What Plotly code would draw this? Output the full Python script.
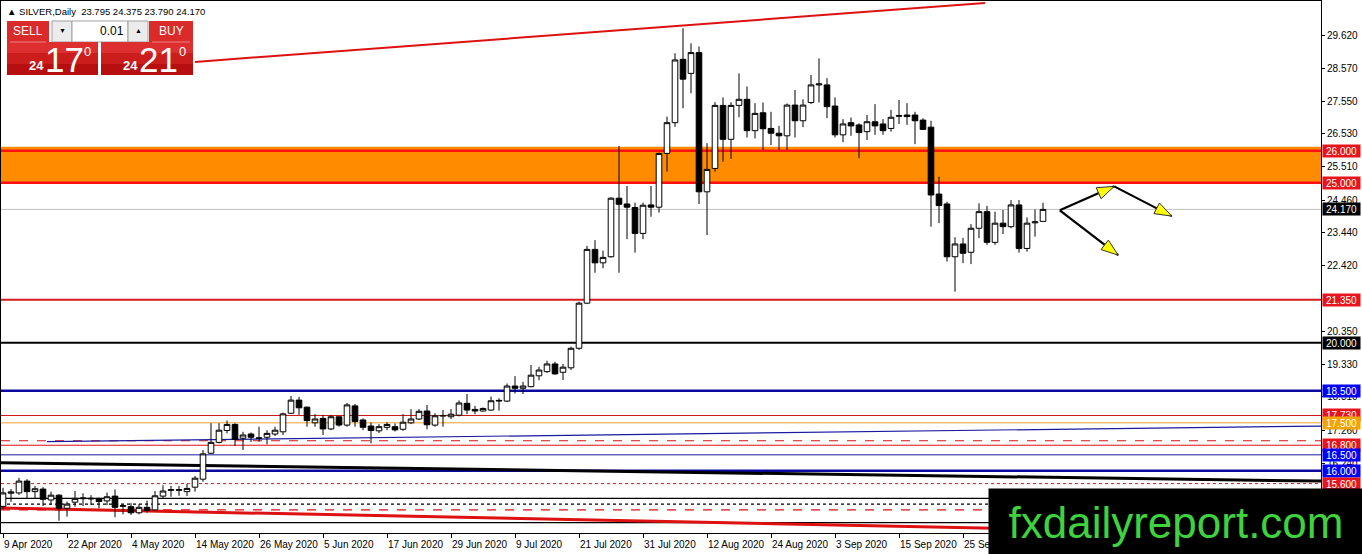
import plotly.graph_objects as go
import math

# ---------------- data ----------------
opens = [14.89,15.30,15.31,15.68,15.35,15.43,15.09,15.24,14.83,15.02,15.13,15.12,15.14,15.06,15.21,14.89,14.88,14.69,14.86,14.78,
         15.21,15.39,15.39,15.35,15.49,15.74,16.55,16.89,17.26,17.45,17.02,17.15,17.01,17.05,17.15,17.22,17.80,18.21,17.99,17.50,
         17.64,17.31,17.69,17.43,18.03,17.59,17.40,17.25,17.36,17.38,17.30,17.50,17.62,17.87,17.43,17.71,17.69,17.74,18.11,17.92,
         17.87,17.90,18.18,18.18,18.65,18.58,18.63,18.97,19.10,19.34,19.08,19.22,19.83,21.24,22.92,22.50,22.69,24.52,24.34,24.23,
         23.42,24.31,24.24,25.92,26.88,28.86,28.42,29.07,24.72,25.45,27.42,26.36,27.42,27.61,26.63,27.19,26.70,26.55,26.47,27.43,
         26.94,27.51,28.06,28.06,27.40,26.50,26.88,26.81,26.60,26.91,26.84,26.70,27.08,27.12,27.12,26.96,26.74,24.65,24.34,22.69,
         23.09,22.83,23.58,24.10,23.14,23.74,23.63,24.31,22.95,23.75,23.795]
highs = [15.47,15.43,15.78,15.74,15.53,15.49,15.35,15.27,15.04,15.37,15.30,15.24,15.16,15.32,15.42,14.96,14.99,14.96,15.07,15.37,
         15.55,15.53,15.53,15.59,15.84,16.65,17.49,17.49,17.57,17.49,17.22,17.20,17.38,17.27,17.38,17.82,18.34,18.31,18.01,17.77,
         17.74,17.74,17.69,18.12,18.09,17.64,17.51,17.46,17.52,17.48,17.77,17.93,17.93,18.06,17.80,17.90,17.93,18.20,18.40,18.03,
         17.98,18.32,18.27,18.73,18.96,18.78,19.31,19.25,19.44,19.41,19.34,19.88,21.29,23.03,23.21,22.88,24.55,26.15,24.90,24.38,
         24.38,24.90,25.94,27.07,29.05,29.83,29.36,29.26,26.24,27.52,27.67,27.52,28.42,28.01,27.49,27.51,27.22,26.78,27.48,27.90,
         27.61,28.37,28.89,28.27,27.67,26.99,27.04,26.86,27.12,27.46,26.99,27.28,27.59,27.49,27.22,27.02,26.94,25.19,24.41,23.30,
         23.28,23.71,24.36,24.28,24.10,24.15,24.46,24.46,23.92,24.17,24.375]
lows = [14.81,15.03,15.25,15.15,15.15,14.90,14.93,14.44,14.57,14.88,14.90,14.93,14.83,14.93,14.55,14.64,14.62,14.64,14.69,14.76,
        15.14,15.19,15.22,15.21,15.35,15.66,16.53,16.86,17.17,16.78,16.65,16.90,16.91,16.83,17.09,17.12,17.78,17.75,17.38,17.38,
        17.12,17.27,17.38,17.38,17.38,17.27,16.86,17.18,17.27,17.23,17.25,17.46,17.59,17.30,17.38,17.38,17.62,17.70,17.77,17.77,
        17.85,17.88,17.88,18.15,18.42,18.40,18.61,18.83,19.06,19.00,18.84,19.15,19.78,21.21,22.19,22.33,22.66,22.19,23.24,22.82,
        23.24,23.94,24.07,25.35,26.75,27.33,27.80,24.34,23.37,25.35,25.66,25.75,27.05,26.42,26.39,26.03,26.18,26.03,26.03,26.42,
        26.74,27.46,27.51,27.02,26.42,26.27,26.47,25.77,26.34,26.50,26.50,26.60,26.84,26.81,26.21,26.65,23.63,23.74,22.54,21.60,
        22.49,22.46,23.27,23.06,23.06,23.40,23.58,22.82,22.85,23.32,23.790]
closes = [15.31,15.34,15.68,15.35,15.44,15.11,15.24,14.83,14.96,15.14,15.15,15.14,15.04,15.19,14.86,14.91,14.69,14.86,14.76,15.22,
          15.37,15.41,15.41,15.45,15.77,16.53,16.89,17.27,17.45,16.98,17.12,17.05,17.03,17.17,17.27,17.78,18.21,17.97,17.57,17.62,
          17.31,17.69,17.43,18.06,17.54,17.36,17.26,17.38,17.45,17.28,17.52,17.62,17.86,17.44,17.72,17.73,17.77,18.12,17.90,17.87,
          17.95,18.19,18.20,18.65,18.58,18.65,18.99,19.15,19.34,19.03,19.24,19.83,21.24,22.92,22.50,22.67,24.52,24.33,24.24,23.42,
          24.30,24.24,25.92,26.88,28.84,28.24,29.07,24.72,25.42,27.42,26.36,27.42,27.61,26.63,27.17,26.69,26.55,26.47,27.43,26.94,
          27.43,28.06,28.09,27.38,26.50,26.84,26.78,26.57,26.91,26.78,26.63,27.05,27.10,27.07,26.94,26.67,24.62,24.29,22.69,23.09,
          22.80,23.58,24.10,23.14,23.74,23.63,24.31,22.95,23.74,23.78,24.170]
bar_index = list(range(len(closes)))

date_labels = ["9 Apr 2020", "22 Apr 2020", "4 May 2020", "14 May 2020", "26 May 2020", "5 Jun 2020",
               "17 Jun 2020", "29 Jun 2020", "9 Jul 2020", "21 Jul 2020", "31 Jul 2020", "12 Aug 2020",
               "24 Aug 2020", "3 Sep 2020", "15 Sep 2020", "25 Sep 2020"]
date_label_index = [0, 8, 16, 24, 32, 40, 48, 56, 64, 72, 80, 88, 96, 104, 112, 120]

price_ticks = [29.62, 28.57, 27.55, 26.53, 25.51, 24.46, 23.44, 22.42, 20.35, 19.33, 18.31, 17.26, 16.24]

# labelled horizontal levels
level_prices = [26.0, 25.0, 24.17, 21.35, 20.0, 18.5, 17.73, 17.5, 16.8, 16.5, 16.0, 15.6]
level_colors = ['#ff1010', '#ff1010', '#c0c0c0', '#d41c1c', '#000000', '#0a0aa0', '#cc1414', '#f0a030', '#dd1111', '#1a1aa0', '#0a0aa0', '#dd1111']
level_widths = [2.5, 2.5, 1, 2, 2, 2.5, 1, 1, 1, 1, 2.5, 1]
level_dash = ['solid', 'solid', 'solid', 'solid', 'solid', 'solid', 'solid', 'solid', 'solid', 'solid', 'solid', 'dot']
label_bg = ['#e8141c', '#e8141c', '#000000', '#e8141c', '#000000', '#0000ff', '#e8141c', '#f5a300', '#e8141c', '#0000ff', '#0000ff', '#e8141c']

# unlabelled levels
extra_prices = [16.94, 15.14, 14.96, 14.78, 14.38]
extra_colors = ['#dd1111', '#000000', '#000000', '#dd1111', '#000000']
extra_dash = ['dash', 'solid', 'dot', 'dash', 'solid']

zone_low, zone_high = 24.99, 26.13

# trend lines: (bar start, price start, bar end, price end, colour, width)
trend_lines = [
    (24.0, 28.78, 122.75, 30.62, '#dd1111', 2),
    (-0.25, 16.25, 164.75, 15.68, '#000000', 3),
    (-0.25, 14.84, 164.75, 14.00, '#dd1111', 3),
    (5.5, 16.91, 164.75, 17.40, '#1a1aa0', 1.2),
]

# arrows (bar, price) start -> end
arrows = [((132.1, 24.14), (138.9, 24.89)),
          ((138.9, 24.89), (146.1, 23.96)),
          ((132.1, 24.14), (139.4, 22.74))]

# ---------------- geometry helpers ----------------
W, H = 1362, 554
ML, MR, MT, MB = 1, 41, 1, 21
PW, PH = W - ML - MR, H - MT - MB
XR = [-0.25, 164.75]
YR = [14.0575, 30.6825]


def xpap(px):
    return (px - ML) / PW


def ypap(py):
    return (MT + PH - py) / PH


def d2px(i, p):
    return ML + (i - XR[0]) / (XR[1] - XR[0]) * PW, MT + (YR[1] - p) / (YR[1] - YR[0]) * PH


FONT = "Liberation Sans"

fig = go.Figure()
fig.add_trace(go.Candlestick(
    x=bar_index, open=opens, high=highs, low=lows, close=closes,
    increasing=dict(line=dict(color='black', width=1), fillcolor='white'),
    decreasing=dict(line=dict(color='black', width=1), fillcolor='black'),
    whiskerwidth=0, hoverinfo='none', showlegend=False))

shapes = []
shapes.append(dict(type='rect', xref='paper', yref='y', x0=0, x1=1, y0=zone_low, y1=zone_high,
                   fillcolor='#ff8c00', line=dict(width=0), layer='below'))
for p, c, w, d in zip(level_prices, level_colors, level_widths, level_dash):
    shapes.append(dict(type='line', xref='paper', yref='y', x0=0, x1=1, y0=p, y1=p,
                       line=dict(color=c, width=w, dash=d), layer='below'))
for p, c, d in zip(extra_prices, extra_colors, extra_dash):
    shapes.append(dict(type='line', xref='paper', yref='y', x0=0, x1=1, y0=p, y1=p,
                       line=dict(color=c, width=1.2, dash=d), layer='below'))
for x0, y0, x1, y1, c, w in trend_lines:
    shapes.append(dict(type='line', xref='x', yref='y', x0=x0, y0=y0, x1=x1, y1=y1,
                       line=dict(color=c, width=w), layer='below'))

# arrows
for (a, b) in arrows:
    ax, ay = d2px(*a)
    bx, by = d2px(*b)
    shapes.append(dict(type='line', xref='paper', yref='paper', x0=xpap(ax), y0=ypap(ay),
                       x1=xpap(bx), y1=ypap(by), line=dict(color='black', width=2.2)))
    L = math.hypot(bx - ax, by - ay)
    ux, uy = (bx - ax) / L, (by - ay) / L
    hl, hw = 17, 6
    cx, cy = bx - ux * hl, by - uy * hl
    pts = [(bx, by), (cx - uy * hw, cy + ux * hw), (cx + uy * hw, cy - ux * hw)]
    path = 'M ' + ' L '.join(f'{xpap(x):.5f},{ypap(y):.5f}' for x, y in pts) + ' Z'
    shapes.append(dict(type='path', xref='paper', yref='paper', path=path,
                       fillcolor='#ffff00', line=dict(color='#333333', width=1)))


# one-click trading panel (pixel boxes)
def prect(x0, y0, x1, y1, fill, line=None, lw=0):
    return dict(type='rect', xref='paper', yref='paper', x0=xpap(x0), x1=xpap(x1), y0=ypap(y0), y1=ypap(y1),
                fillcolor=fill, line=dict(color=line or fill, width=lw), layer='above')


shapes += [
    prect(7, 21, 49, 42, '#da2a2a'),
    prect(149, 21, 193, 42, '#da2a2a'),
    prect(52, 21, 72, 42, '#ececec', '#a0a0a0', 1),
    prect(72, 21, 128, 42, '#ffffff', '#a0a0a0', 1),
    prect(128, 21, 148, 42, '#ececec', '#a0a0a0', 1),
]
for (x0, x1) in [(7, 98), (101, 193)]:
    shapes += [prect(x0, 42, x1, 53, '#dd2f2f'), prect(x0, 53, x1, 64, '#cc1d1d'), prect(x0, 64, x1, 75, '#b70f0f')]
shapes += [dict(type='line', xref='paper', yref='paper', x0=xpap(10), x1=xpap(46), y0=ypap(42), y1=ypap(42),
                line=dict(color='#f08080', width=1)),
           dict(type='line', xref='paper', yref='paper', x0=xpap(152), x1=xpap(190), y0=ypap(42), y1=ypap(42),
                line=dict(color='#f08080', width=1))]

ann = []
ann.append(dict(xref='paper', yref='paper', x=xpap(5), y=ypap(11), xanchor='left', yanchor='middle', showarrow=False,
                text='▲ SILVER,Daily  23.795 24.375 23.790 24.170', font=dict(family=FONT, size=9.5, color='black')))


def ptext(x, y, t, size, color='white', anchor='center', bold=False):
    return dict(xref='paper', yref='paper', x=xpap(x), y=ypap(y), xanchor=anchor, yanchor='middle', showarrow=False,
                text=(f'<b>{t}</b>' if bold else t), font=dict(family=FONT, size=size, color=color))


ann += [ptext(28, 31, 'SELL', 12), ptext(171, 31, 'BUY', 12),
        ptext(126, 31, '0.01', 12, 'black', 'right'),
        ptext(62, 31, '▼', 7, 'black'), ptext(138, 31, '▲', 7, 'black'),
        ptext(36, 66, '24', 13, bold=True), ptext(64, 59, '17', 35), ptext(88, 51, '0', 13),
        ptext(130, 66, '24', 13, bold=True), ptext(158, 59, '21', 35), ptext(182, 51, '0', 13)]

for i, t in zip(date_label_index, date_labels):
    ann.append(dict(xref='x', yref='paper', x=i, y=0, xanchor='left', yanchor='middle', yshift=-11, xshift=-1,
                    showarrow=False, text=t, font=dict(family=FONT, size=10, color='black')))

for p, bg in zip(level_prices, label_bg):
    ann.append(dict(xref='paper', yref='y', x=1, y=p, xanchor='left', yanchor='middle', xshift=1,
                    showarrow=False, text=f'{p:.3f}', bgcolor=bg, borderpad=1, width=35, height=10,
                    font=dict(family=FONT, size=10, color='white')))

# watermark (drawn last, on top)
ann.append(dict(xref='paper', yref='paper', x=xpap(988), y=ypap(488), xanchor='left', yanchor='top',
                showarrow=False, text='fxdailyreport.com', bgcolor='black', borderpad=0, width=374, height=66,
                font=dict(family=FONT, size=44, color='#3fd23f')))

fig.update_layout(
    width=W, height=H, margin=dict(l=ML, r=MR, t=MT, b=MB),
    paper_bgcolor='white', plot_bgcolor='white', showlegend=False,
    boxgap=0.3, boxgroupgap=0,
    shapes=shapes, annotations=ann,
    xaxis=dict(range=XR, type='linear', rangeslider=dict(visible=False), showgrid=False, zeroline=False,
               tickvals=date_label_index, ticks='outside', ticklen=4, tickcolor='black', showticklabels=False,
               showline=True, linecolor='black', linewidth=1, mirror=True, fixedrange=True),
    yaxis=dict(range=YR, side='right', showgrid=False, zeroline=False, tickvals=price_ticks,
               ticktext=[f'{v:.3f}' for v in price_ticks], ticks='outside', ticklen=3, tickcolor='black',
               tickfont=dict(family=FONT, size=10, color='black'),
               showline=True, linecolor='black', linewidth=1, mirror=True, fixedrange=True),
)

fig.write_html("out.html", config=dict(displayModeBar=False),
               post_script="document.body.style.margin='0';document.body.style.overflow='hidden';")
